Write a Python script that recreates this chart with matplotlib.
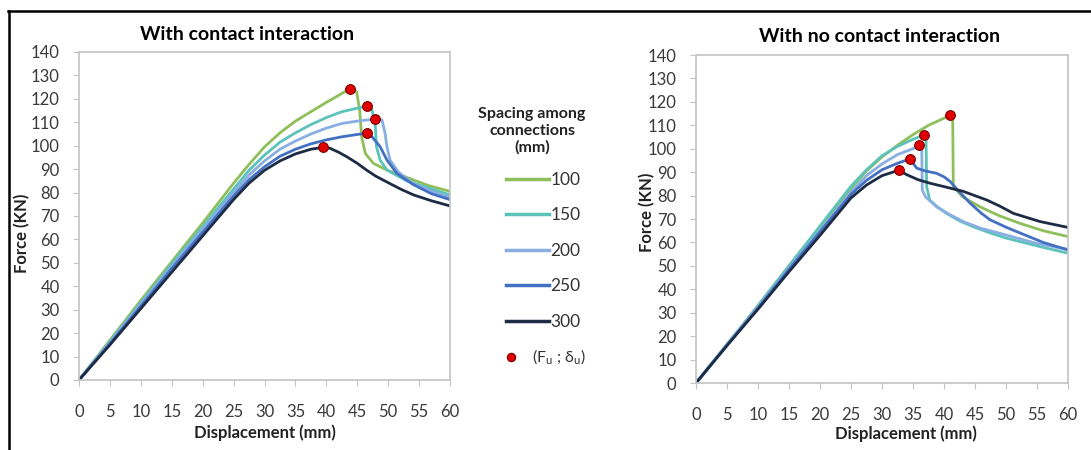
import numpy as np
import matplotlib
matplotlib.use('Agg')
import matplotlib.pyplot as plt
from matplotlib.lines import Line2D

plt.rcParams['font.family'] = ['Lato', 'DejaVu Sans']

spacing = ['100', '150', '200', '250', '300']
colors = ['#8fbf5a', '#5cc3bb', '#88aee2', '#4370c2', '#1d2b45']

# with contact interaction
left_x = [
    [0, 5, 10, 15, 20, 25, 27.5, 30, 32.5, 35, 37.5, 40, 42, 43.8, 44.9, 45.4, 45.7, 46.3, 47.6, 49.8, 53, 56.5, 60],
    [0, 5, 10, 15, 20, 25, 27.5, 30, 32.5, 35, 37.5, 40, 42.5, 45, 46.5, 47.3, 47.9, 48.1, 48.7, 49.8, 53, 56.5, 60],
    [0, 5, 10, 15, 20, 25, 27.5, 30, 32.5, 35, 37.5, 40, 42.5, 45, 47.9, 49, 49.5, 49.8, 50.3, 51.6, 54, 57, 60],
    [0, 5, 10, 15, 20, 25, 27.5, 30, 32.5, 35, 37.5, 40, 42.5, 45, 46.5, 47.3, 48.7, 49.8, 51.4, 54, 57, 60],
    [0, 5, 10, 15, 20, 25, 27.5, 30, 32.5, 35, 37.5, 39.5, 40.6, 42, 43.3, 45, 46.5, 48, 49.8, 52, 54.1, 57, 60],
]
left_y = [
    [0, 17, 34, 50.5, 67, 84, 92, 99.5, 105.5, 110.5, 114.5, 118.5, 121.5, 124.3, 123, 115, 104, 96.7, 92.5, 89.6, 86.5, 83, 80.5],
    [0, 16.5, 33, 49.5, 65.5, 81.5, 89.5, 96, 101.5, 105.5, 109, 112, 114.5, 116, 116.9, 116, 109.5, 99.6, 93.9, 89.6, 85, 82, 79],
    [0, 16, 32.5, 48.5, 64.5, 80, 87.5, 93.5, 98.5, 102, 105, 107.5, 109.5, 110.5, 111.4, 111, 105.3, 99.6, 93.9, 88.9, 84, 80.5, 78],
    [0, 15.5, 31.5, 47.5, 63, 78.5, 85.5, 91, 95.5, 98.5, 100.8, 102.5, 103.8, 104.8, 105.3, 104.1, 99.6, 93.9, 88.2, 83.5, 79.5, 77],
    [0, 15, 30.5, 46, 61.5, 77, 84, 89.5, 93.5, 96.5, 98.5, 99.3, 98.9, 97.2, 95.3, 92.5, 89.6, 87, 84.5, 81.5, 79, 76.5, 74.3],
]
left_du = [43.8, 46.5, 47.9, 46.5, 39.5]
left_fu = [124.3, 116.9, 111.4, 105.3, 99.3]

# with no contact interaction
right_x = [
    [0, 5, 10, 15, 20, 25, 27.5, 30, 32.5, 35, 37.5, 40, 40.9, 41.4, 41.5, 43, 45.8, 49, 52.3, 56, 60],
    [0, 5, 10, 15, 20, 25, 27.5, 30, 32.5, 35, 36.8, 37.1, 37.2, 37.7, 39, 40.4, 42.5, 44.7, 47.5, 50.1, 55.5, 60],
    [0, 5, 10, 15, 20, 25, 27.5, 30, 32.5, 35, 36, 36.4, 36.5, 37, 38.8, 41, 43.1, 46, 49, 54.9, 60],
    [0, 5, 10, 15, 20, 25, 27.5, 30, 32.5, 34.5, 35.6, 37, 38.8, 40, 41, 42.5, 44.2, 46, 47.4, 50, 52.3, 56, 60],
    [0, 5, 10, 15, 20, 25, 27.5, 30, 32.7, 34, 35.8, 37.7, 40.5, 43.1, 46.9, 49, 51.2, 55.5, 60],
]
right_y = [
    [0, 16.5, 33, 50, 66.5, 83, 90.5, 96.5, 101.5, 106, 110, 113, 114.4, 114, 83.8, 79.5, 75.2, 71.3, 68.1, 65, 62.5],
    [0, 16.5, 33, 50, 67, 84, 91, 97, 101, 104, 105.9, 105.5, 83.8, 78.1, 75, 72.4, 69.2, 66.7, 64, 61.8, 58.2, 55.4],
    [0, 16.5, 32.5, 49, 65, 81.5, 88.5, 93.5, 97.5, 100, 101.4, 101, 82.4, 79.5, 75.2, 71.8, 68.9, 66, 63.9, 59.6, 57],
    [0, 16, 32, 48.5, 64.5, 80.5, 86.5, 91, 93.8, 95.6, 91.7, 90.5, 89.5, 88, 86, 81.5, 76.8, 72.5, 69.7, 66.5, 64, 60, 56.8],
    [0, 16, 31.5, 47.5, 63, 79, 84.5, 88.5, 90.8, 88.9, 86.8, 85.3, 83.5, 81.8, 78.1, 75.5, 72.4, 68.9, 66.4],
]
right_du = [40.9, 36.8, 36.0, 34.5, 32.7]
right_fu = [114.4, 105.9, 101.4, 95.6, 90.8]

W, H = 1091, 450
fig = plt.figure(figsize=(W / 100, H / 100), dpi=100)

def px(x, y):
    return x / W, 1 - y / H

def setup(ax):
    ax.set_xlim(0, 60)
    ax.set_ylim(0, 140)
    ax.set_xticks(np.arange(0, 61, 5))
    ax.set_yticks(np.arange(0, 141, 10))
    for s in ax.spines.values():
        s.set_color('#c4c4c4')
        s.set_linewidth(1.2)
    ax.tick_params(direction='out', length=4, color='#c4c4c4', labelsize=12,
                   labelcolor='#3a3a3a')
    ax.tick_params(axis='y', pad=10)
    ax.tick_params(axis='x', pad=13)

ax1 = fig.add_axes([79 / W, 1 - 380 / H, 371 / W, 328 / H])
ax2 = fig.add_axes([696 / W, 1 - 383 / H, 372 / W, 328 / H])

for ax, xs, ys, du, fu in [(ax1, left_x, left_y, left_du, left_fu),
                           (ax2, right_x, right_y, right_du, right_fu)]:
    setup(ax)
    for i in range(len(spacing)):
        ax.plot(xs[i], ys[i], color=colors[i], lw=2, solid_joinstyle='round')
    ax.plot(du, fu, 'o', color='#e00000', mec='#7a0000', mew=0.8, ms=7, zorder=5)

# titles and axis labels
fig.text(*px(247, 35), 'With contact interaction', ha='center', va='center',
         fontsize=14, fontweight='bold')
fig.text(*px(880, 37), 'With no contact interaction', ha='center', va='center',
         fontsize=14, fontweight='bold')
fig.text(*px(265, 433), 'Displacement (mm)', ha='center', va='center',
         fontsize=12, fontweight='bold', color='#222222')
fig.text(*px(906, 434), 'Displacement (mm)', ha='center', va='center',
         fontsize=12, fontweight='bold', color='#222222')
fig.text(*px(22, 233), 'Force (KN)', ha='center', va='center', rotation=90,
         fontsize=12, fontweight='bold', color='#222222')
fig.text(*px(647, 212), 'Force (KN)', ha='center', va='center', rotation=90,
         fontsize=12, fontweight='bold', color='#222222')

# legend
fig.text(*px(532, 131), 'Spacing among\nconnections\n(mm)', ha='center', va='center',
         fontsize=11.5, fontweight='bold', color='#222222', linespacing=1.25)
handles = [Line2D([], [], color=c, lw=2.5) for c in colors]
fig.legend(handles, spacing, loc='upper left', bbox_to_anchor=px(506, 172),
           frameon=False, borderpad=0, borderaxespad=0, handlelength=2.5,
           handletextpad=0.05, labelspacing=1.12, fontsize=12.5,
           labelcolor='#333333')
mk = Line2D([], [], ls='none', marker='o', color='#e00000', mec='#7a0000', mew=0.8, ms=6)
fig.legend([mk], [r'(F$_\mathregular{u}$ ; δ$_\mathregular{u}$)'], loc='upper left',
           bbox_to_anchor=px(503, 348), frameon=False, borderpad=0, borderaxespad=0,
           handlelength=1.0, handletextpad=0.8, fontsize=11.5, labelcolor='#333333')

# outer frame (top and left)
fig.add_artist(Line2D([8 / W, 1], [1 - 11 / H, 1 - 11 / H], color='black', lw=1.8))
fig.add_artist(Line2D([9 / W, 9 / W], [0, 1 - 11 / H], color='black', lw=1.8))

plt.savefig('out.png', dpi=100)
